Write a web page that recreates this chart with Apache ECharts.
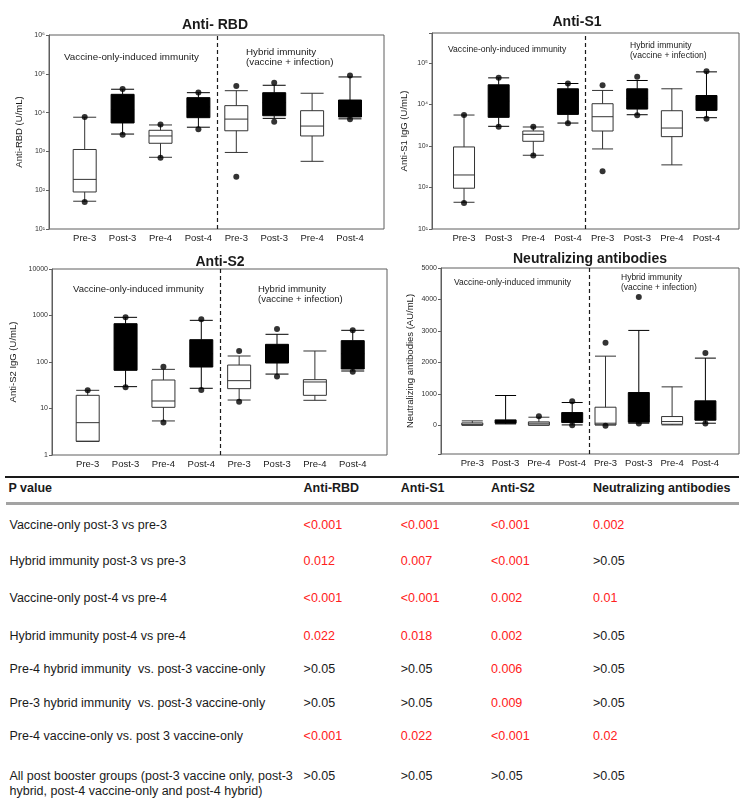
<!DOCTYPE html>
<html>
<head>
<meta charset="utf-8">
<title>Antibody levels before and after booster</title>
<script src="https://cdn.jsdelivr.net/npm/echarts@6.0.0/dist/echarts.min.js"></script>
<style>
  body { margin: 0; background: #fff; font-family: 'Liberation Sans', Arial, sans-serif; }
  #page { position: relative; width: 743px; height: 811px; overflow: hidden; }
  #chart { position: absolute; left: 0; top: 0; width: 743px; height: 475px; }
  .rule { position: absolute; }
  .cell { position: absolute; font-size: 12.5px; line-height: 15px; white-space: pre; color: #1a1a1a; }
  .hd { font-weight: bold; }
  .sig { color: #ff2020; }
</style>
</head>
<body>
<div id="page">
  <div id="chart"></div>
</div>
<script>
// groups: 4 vaccine-only, then 4 hybrid immunity
const categories = ['Pre-3', 'Post-3', 'Pre-4', 'Post-4', 'Pre-3', 'Post-3', 'Pre-4', 'Post-4'];

// boxes are [min whisker, Q1, median, Q3, max whisker]; dots are [group index, value]
const rbdBoxes = [
  [52, 90, 190, 1120, 7600],
  [2800, 5400, 12000, 29600, 40000],
  [705, 1620, 2500, 3500, 4800],
  [4200, 7400, 14000, 24300, 32600],
  [940, 3400, 6800, 15100, 36700],
  [7100, 8300, 18000, 32600, 50600],
  [555, 2500, 4500, 11200, 31500],
  [6900, 7700, 12000, 21100, 83000]
];
const rbdDots = [[0, 7700], [0, 50], [1, 40500], [1, 2700], [2, 4950], [2, 690], [3, 33000], [3, 3700],
  [4, 48400], [4, 223], [5, 59000], [5, 5800], [7, 91000], [7, 6700]];

const s1Boxes = [
  [44, 96, 200, 946, 5550],
  [2970, 4880, 12000, 29700, 43600],
  [597, 1295, 1905, 2290, 2860],
  [3560, 5750, 12000, 23800, 31900],
  [847, 2290, 5060, 10400, 21700],
  [5650, 7730, 14000, 23800, 37700],
  [350, 1675, 2700, 7050, 23800],
  [4790, 7180, 11000, 16400, 60800]
];
const s1Dots = [[0, 5600], [0, 42], [1, 44000], [1, 2900], [2, 2900], [2, 590], [3, 32000], [3, 3500],
  [4, 29100], [4, 247], [5, 46100], [5, 5500], [7, 63200], [7, 4530]];

const s2Boxes = [
  [1.97, 1.97, 4.96, 19.2, 24.6],
  [29.5, 66.2, 200, 667, 913],
  [5.4, 10.6, 14.5, 41, 69.5],
  [27.2, 78, 150, 302, 787],
  [15.2, 26.7, 39.7, 86, 134.6],
  [55, 95, 150, 240, 394],
  [15, 19.2, 37.2, 41.7, 172.5],
  [64, 70.7, 150, 288, 480]
];
const s2Dots = [[0, 24.6], [1, 913], [1, 28.5], [2, 79.4], [2, 5.0], [3, 828], [3, 25],
  [4, 172.5], [4, 14], [5, 512], [5, 49], [7, 480], [7, 62]];

const nabBoxes = [
  [0, 5, 30, 74, 138],
  [42, 64, 120, 170, 945],
  [0, 5, 64, 106, 255],
  [10, 85, 200, 403, 722],
  [10, 10, 64, 573, 2197],
  [64, 96, 300, 1040, 3015],
  [10, 32, 117, 276, 1220],
  [64, 159, 400, 775, 2134]
];
const nabDots = [[2, 287], [3, 764], [3, 0], [4, 2620], [4, -20], [5, 4076], [5, 53], [7, 2293], [7, 53]];

// p value table
const tableColumns = ['P value', 'Anti-RBD', 'Anti-S1', 'Anti-S2', 'Neutralizing antibodies'];
const comparisons = [
  'Vaccine-only post-3 vs pre-3',
  'Hybrid immunity post-3 vs pre-3',
  'Vaccine-only post-4 vs pre-4',
  'Hybrid immunity post-4 vs pre-4',
  'Pre-4 hybrid immunity  vs. post-3 vaccine-only',
  'Pre-3 hybrid immunity  vs. post-3 vaccine-only',
  'Pre-4 vaccine-only vs. post 3 vaccine-only',
  'All post booster groups (post-3 vaccine only, post-3\nhybrid, post-4 vaccine-only and post-4 hybrid)'
];
const pRBD = ['<0.001', '0.012', '<0.001', '0.022', '>0.05', '>0.05', '<0.001', '>0.05'];
const pS1 = ['<0.001', '0.007', '<0.001', '0.018', '>0.05', '>0.05', '0.022', '>0.05'];
const pS2 = ['<0.001', '<0.001', '0.002', '0.002', '0.006', '0.009', '<0.001', '>0.05'];
const pNAb = ['0.002', '>0.05', '0.01', '>0.05', '>0.05', '>0.05', '0.02', '>0.05'];

const SUP = ['\u2070', '\u00b9', '\u00b2', '\u00b3', '\u2074', '\u2075', '\u2076'];
function powLabel(v) {
  const e = Math.log10(v), r = Math.round(e);
  return Math.abs(e - r) < 1e-6 ? '10' + SUP[r] : '';
}
function plainLogLabel(v) {
  const e = Math.log10(v), r = Math.round(e);
  return Math.abs(e - r) < 1e-6 ? String(Math.round(v)) : '';
}

// layout of the four panels (frame = left, top, right, bottom; inner = band area left, width)
const panels = [
  { title: 'Anti- RBD', tx: 215, ty: 25, yName: 'Anti-RBD (U/mL)', nameGap: 25,
    frame: [49, 35, 384, 229], inner: [65.75, 303.2], boxW: 23,
    yType: 'log', yMin: 10, yMax: 1e6, fmt: powLabel, boxes: rbdBoxes, dots: rbdDots,
    vacc: [64, 57], hyb: [246, 52], annoSize: 9.8 },
  { title: 'Anti-S1', tx: 577, ty: 22, yName: 'Anti-S1 IgG (U/mL)', nameGap: 23,
    frame: [432, 33, 739, 229], inner: [446.7, 277.1], boxW: 21,
    yType: 'log', yMin: 10, yMax: Math.pow(10, 5.72), fmt: powLabel, boxes: s1Boxes, dots: s1Dots,
    vacc: [448, 50], hyb: [630, 46], annoSize: 8.6 },
  { title: 'Anti-S2', tx: 220, ty: 262, yName: 'Anti-S2 IgG (U/mL)', nameGap: 34,
    frame: [52, 269, 387, 455], inner: [68.77, 302.9], boxW: 23,
    yType: 'log', yMin: 1, yMax: 10000, fmt: plainLogLabel, boxes: s2Boxes, dots: s2Dots,
    vacc: [73, 289], hyb: [258, 289], annoSize: 9.5 },
  { title: 'Neutralizing antibodies', tx: 590, ty: 259, yName: 'Neutralizing antibodies (AU/mL)', nameGap: 26,
    frame: [441, 268, 739, 454], inner: [455.65, 266.4], boxW: 21,
    yType: 'value', yMin: -915, yMax: 5000, fmt: v => (v >= 0 ? String(v) : ''), boxes: nabBoxes, dots: nabDots,
    vacc: [454, 283], hyb: [621, 278], annoSize: 8.5 }
];

const FONT = "'Liberation Sans', Arial, sans-serif";
const option = {
  animation: false,
  textStyle: { fontFamily: FONT },
  grid: [], xAxis: [], yAxis: [], series: [], graphic: []
};

function addText(text, x, y, size, bold, align) {
  option.graphic.push({
    type: 'text', x: x, y: y, silent: true,
    style: {
      text: text, fill: '#1a1a1a',
      font: (bold ? 'bold ' : '') + size + 'px ' + FONT,
      align: align, verticalAlign: 'middle', textAlign: align, textVerticalAlign: 'middle'
    }
  });
}

panels.forEach(p => {
  const [l, t, r, b] = p.frame;
  const frameGrid = option.grid.length;
  option.grid.push({ left: l, top: t, width: r - l, height: b - t, show: true,
    borderColor: '#5e5e5e', borderWidth: 1, backgroundColor: 'transparent' });
  option.grid.push({ left: p.inner[0], top: t, width: p.inner[1], height: b - t });
  const dataGrid = frameGrid + 1;

  // frame: carries the visible y axis
  option.xAxis.push({ gridIndex: frameGrid, type: 'value', show: false });
  option.yAxis.push({
    gridIndex: frameGrid, type: p.yType, min: p.yMin, max: p.yMax,
    name: p.yName, nameLocation: 'middle', nameGap: p.nameGap,
    nameTextStyle: { fontSize: 9.5, color: '#1a1a1a' },
    axisLine: { show: true, lineStyle: { color: '#5e5e5e', width: 1 } },
    axisTick: { show: true, length: 3, lineStyle: { color: '#5e5e5e' } },
    axisLabel: { fontSize: 7, color: '#333', margin: 4, formatter: p.fmt },
    splitLine: { show: false }, minorTick: { show: false }
  });

  // data area: category axis for boxes, hidden index axis for dots and the group divider
  const cx = option.xAxis.length;
  option.xAxis.push({
    gridIndex: dataGrid, type: 'category', data: categories,
    axisLine: { show: false }, axisTick: { show: false }, splitLine: { show: false },
    axisLabel: { interval: 0, fontSize: 9.5, color: '#1a1a1a', margin: 4 }
  });
  const vx = option.xAxis.length;
  option.xAxis.push({ gridIndex: dataGrid, type: 'value', min: -0.5, max: categories.length - 0.5, show: false });
  const dy = option.yAxis.length;
  option.yAxis.push({ gridIndex: dataGrid, type: p.yType, min: p.yMin, max: p.yMax, show: false });

  option.series.push({
    type: 'boxplot', xAxisIndex: cx, yAxisIndex: dy,
    boxWidth: [p.boxW, p.boxW],
    itemStyle: { color: '#fff', borderColor: '#000', borderWidth: 1 },
    emphasis: { disabled: true },
    data: p.boxes.map((v, i) => {
      const post = categories[i].startsWith('Post');
      return { value: v, itemStyle: post ? { color: '#000', borderColor: '#000' } : { color: '#fff', borderColor: '#333' } };
    })
  });
  option.series.push({
    type: 'scatter', xAxisIndex: vx, yAxisIndex: dy,
    symbol: 'circle', symbolSize: 6,
    itemStyle: { color: '#000' },
    emphasis: { disabled: true },
    data: p.dots,
    markLine: {
      silent: true, symbol: ['none', 'none'], label: { show: false },
      lineStyle: { color: '#1a1a1a', type: [4, 3], width: 1.2 },
      data: [{ xAxis: 3.5 }]
    }
  });

  addText(p.title, p.tx, p.ty, 14, true, 'center');
  addText('Vaccine-only-induced immunity', p.vacc[0], p.vacc[1], p.annoSize, false, 'left');
  addText('Hybrid immunity', p.hyb[0], p.hyb[1], p.annoSize, false, 'left');
  addText('(vaccine + infection)', p.hyb[0], p.hyb[1] + 10, p.annoSize, false, 'left');
});

const chart = echarts.init(document.getElementById('chart'), null, { renderer: 'canvas' });
chart.setOption(option);

// ---- P value table ----
const page = document.getElementById('page');
const colX = [8.5, 303.6, 400.8, 491, 593];
const headerY = 488;
const rowY = [525, 561, 598, 636, 669, 703, 736, 776];

function cell(text, x, y, cls) {
  const d = document.createElement('div');
  d.className = 'cell ' + (cls || '');
  d.style.left = x + 'px';
  d.style.top = (y - 7.5) + 'px';
  d.textContent = text;
  page.appendChild(d);
}
function rule(top, left, width, height, color) {
  const d = document.createElement('div');
  d.className = 'rule';
  Object.assign(d.style, { top: top + 'px', left: left + 'px', width: width + 'px', height: height + 'px', background: color });
  page.appendChild(d);
}

rule(476, 5, 734, 2, '#1a1a1a');
rule(502, 6, 733, 3, '#a3a3a3');
tableColumns.forEach((h, i) => cell(h, colX[i], headerY, 'hd'));
const pCols = [pRBD, pS1, pS2, pNAb];
comparisons.forEach((c, r) => {
  cell(c, colX[0] + 1, rowY[r]);
  pCols.forEach((col, k) => cell(col[r], colX[k + 1], rowY[r], col[r].startsWith('>') ? '' : 'sig'));
});
</script>
</body>
</html>
